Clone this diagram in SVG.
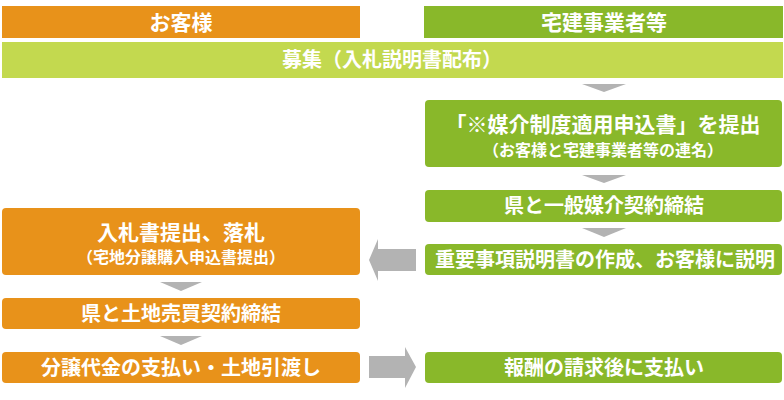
<svg xmlns="http://www.w3.org/2000/svg" width="784" height="400" viewBox="0 0 784 400">
<style>
text{font-family:"Noto Sans CJK JP","Noto Sans",sans-serif;font-weight:bold;fill:#fff;text-anchor:middle}
.big{font-size:20px}
.b2{font-size:21px}
.hd{font-size:21px}
.sm{font-size:16px}
.or{fill:#E8921A}
.gr{fill:#89B82A}
.lg{fill:#C3D94F}
.ar{fill:#B3B3B3}
</style>
<rect width="784" height="400" fill="#fff"/>
<g id="head-customer"><rect class="or" x="2" y="6" width="358" height="32"/><text class="hd" x="181" y="30">お客様</text></g>
<g id="head-agent"><rect class="gr" x="424" y="6" width="359" height="32"/><text class="hd" x="604" y="30">宅建事業者等</text></g>
<g id="recruit"><rect class="lg" x="2" y="42" width="781" height="36"/><text class="big" x="392" y="67">募集（入札説明書配布）</text></g>
<g id="apply"><rect class="gr" x="425" y="100" width="357" height="67" rx="4"/><text class="b2" x="603" y="132">「※媒介制度適用申込書」を提出</text><text class="sm" x="603" y="156">（お客様と宅建事業者等の連名）</text></g>
<g id="contract-agent"><rect class="gr" x="425" y="190" width="357" height="32" rx="4"/><text class="big" x="604" y="213">県と一般媒介契約締結</text></g>
<g id="explain"><rect class="gr" x="425" y="244" width="357" height="31" rx="4"/><text class="big" x="605" y="267">重要事項説明書の作成、お客様に説明</text></g>
<g id="fee"><rect class="gr" x="425" y="352" width="357" height="31" rx="4"/><text class="big" x="604" y="375">報酬の請求後に支払い</text></g>
<g id="bid"><rect class="or" x="2" y="208" width="358" height="67" rx="4"/><text class="b2" x="181" y="240">入札書提出、落札</text><text class="sm" x="181" y="263">（宅地分譲購入申込書提出）</text></g>
<g id="contract-land"><rect class="or" x="2" y="298" width="358" height="31" rx="4"/><text class="big" x="181" y="321">県と土地売買契約締結</text></g>
<g id="payment"><rect class="or" x="2" y="352" width="358" height="31" rx="4"/><text class="big" x="181" y="375">分譲代金の支払い・土地引渡し</text></g>
<g id="connectors">
<polygon class="ar" points="582,84 626,84 604,92"/>
<polygon class="ar" points="582,175 626,175 604,183"/>
<polygon class="ar" points="582,228 626,228 604,237"/>
<polygon class="ar" points="160,282 202,282 181,291"/>
<polygon class="ar" points="160,336 202,336 181,345"/>
<polygon class="ar" points="416,249 378,249 378,239 369,260 378,281 378,271 416,271"/>
<polygon class="ar" points="369,356 405,356 405,347 416,367 405,388 405,378 369,378"/>
</g>
</svg>
